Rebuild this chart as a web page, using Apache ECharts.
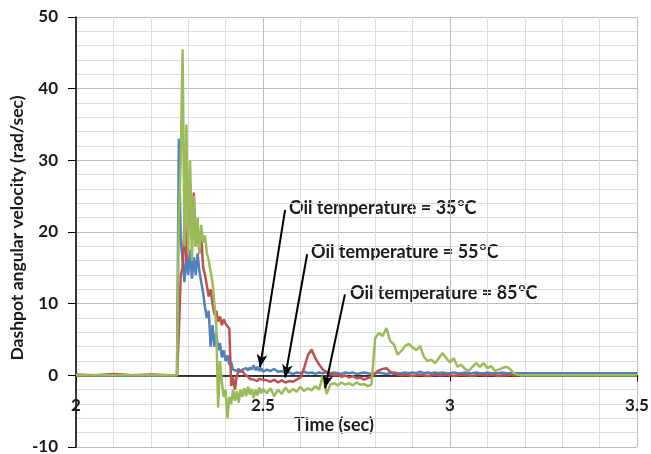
<!DOCTYPE html>
<html>
<head>
<meta charset="utf-8">
<script src="https://cdn.jsdelivr.net/npm/echarts@6/dist/echarts.min.js"></script>
<style>
html, body { margin: 0; padding: 0; background: #fff; }
#chart { width: 651px; height: 454px; }
</style>
</head>
<body>
<div id="chart"></div>
<script>
// time (sec)
var times = [
    2.0, 2.05, 2.1, 2.15, 2.2, 2.25, 2.27,
    2.275, 2.28, 2.285, 2.29, 2.295, 2.3, 2.305, 2.31, 2.315, 2.32, 2.325, 2.33, 2.335, 2.34, 2.345, 2.35,
    2.355, 2.36, 2.365, 2.37, 2.375, 2.38, 2.385, 2.39, 2.395, 2.4, 2.405, 2.41, 2.415, 2.42, 2.425, 2.43,
    2.435, 2.44, 2.445, 2.45, 2.455, 2.46, 2.465, 2.47, 2.475, 2.48, 2.485, 2.49, 2.495, 2.5,
    2.51, 2.52, 2.53, 2.54, 2.55, 2.56, 2.57, 2.58, 2.59, 2.6, 2.61, 2.62, 2.63, 2.64, 2.65, 2.66, 2.67, 2.68,
    2.69, 2.7, 2.71, 2.72, 2.73, 2.74, 2.75, 2.76, 2.77, 2.78, 2.79, 2.8, 2.81, 2.82, 2.83, 2.84, 2.85, 2.86,
    2.87, 2.88, 2.89, 2.9, 2.91, 2.92, 2.93, 2.94, 2.95, 2.96, 2.97, 2.98, 2.99, 3.0, 3.01, 3.02, 3.03, 3.04,
    3.05, 3.06, 3.07, 3.08, 3.09, 3.1, 3.11, 3.12, 3.13, 3.14, 3.15, 3.16, 3.17, 3.18, 3.19, 3.2,
    3.3, 3.4, 3.5
];

// oil temperature = 35 C (blue)
var vel35 = [
    0, 0, 0, 0, 0, 0, 0,
    33, 19, 16, 13, 17, 14, 17.5, 13.5, 16.5, 14, 17, 14.5, 13, 11.5, 9.5, 8,
    9, 4, 7, 4, 6, 3.5, 4.5, 2.5, 3.5, 2, 2.8, 1.5, 1.8, 0.8, 1.0, 0.6,
    0.9, 0.5, 0.8, 0.6, 1.0, 0.7, 1.1, 0.8, 1.4, 0.7, 1.2, 0.6, 1.0, 0.5,
    0.8, 0.6, 0.9, 0.5, 0.6, 0.3, 0.4, 0.2, 0.4, 0.3, 0.5, 0.3, 0.4, 0.2, 0.4, 0.3, 0.5, 0.3,
    0.4, 0.3, 0.2, 0.4, 0.3, 0.4, 0.2, 0.3, 0.4, 0.3, 0.2, 0.3, 0.4, 0.3, 0.2, 0.3, 0.4, 0.3,
    0.3, 0.4, 0.3, 0.4, 0.3, 0.5, 0.3, 0.4, 0.3, 0.4, 0.3, 0.4, 0.3, 0.3, 0.4, 0.3, 0.3, 0.4,
    0.3, 0.3, 0.4, 0.3, 0.3, 0.4, 0.3, 0.3, 0.3, 0.4, 0.3, 0.3, 0.3, 0.3, 0.3, 0.3,
    0.3, 0.3, 0.3
];

// oil temperature = 55 C (red)
var vel55 = [
    0.1, 0, 0.2, 0, 0.1, 0, 0,
    6, 14, 15, 21, 16, 23, 27, 19, 25.5, 18, 21, 17, 19.5, 15, 14, 12.5,
    11, 12, 10, 8.5, 9, 7.5, 8.2, 7, 7.8, 7.2, 7, 6.5, -1.5, -0.3, -2, 0,
    0.5, 0.3, 0.6, 0.2, 0.4, -0.2, -0.5, -0.3, -0.6, -0.4, -0.8, -0.5, -0.7, -0.6,
    -0.7, -0.9, -0.6, -1.0, -0.7, -1.0, -0.8, -0.9, -0.6, -0.3, 1.0, 2.8, 3.6, 2.4, 1.5, 0.8, 0.4, 0.2,
    0.0, 0.1, -0.2, 0.0, -0.3, -0.1, -0.4, -0.3, -0.6, -0.4, -0.2, 0.3, 0.7, 0.9, 1.0, 0.5, 0.2, 0.1,
    0.0, 0.1, 0.0, -0.1, 0.0, 0.1, 0.0, -0.1, 0.0, 0.1, 0.0, 0.0, 0.1, 0.0, -0.1, 0.0, 0.1, 0.0,
    0.0, -0.1, 0.0, 0.1, 0.0, 0.0, 0.1, 0.0, -0.1, 0.0, 0.0, 0.1, 0.0, 0.0, 0.0, 0.0,
    0, 0, 0
];

// oil temperature = 85 C (green)
var vel85 = [
    0, 0, 0, 0, 0, 0, 0,
    22, 30, 45.5, 18, 35, 17, 30, 16, 25, 18, 22, 17, 21, 18.5, 19.5, 17,
    16, 14.5, 13, 10, 7, -4.5, 2, -1, -3, -2, -6, -3, -4, -2, -3.6, -2.2,
    -3.8, -2, -3, -1.8, -2.9, -1.6, -2.7, -1.9, -3.2, -2, -2.8, -1.7, -2.5, -1.9,
    -2.5, -1.8, -2.9, -2.0, -2.6, -1.7, -2.4, -1.9, -2.3, -1.6, -2.2, -1.8, -2.1, -1.5, -2.0, 0.0, -2.6, -1.3,
    -1.1, -1.4, -1.0, -1.3, -1.1, -1.4, -1.0, -1.3, -1.2, -1.5, -1.3, 5.2, 5.9, 5.5, 6.6, 4.8, 4.3, 2.9,
    3.4, 4.1, 4.4, 3.9, 3.5, 4.1, 2.6, 2.0, 2.2, 1.7, 2.4, 3.1, 2.4, 1.8, 2.4, 1.2, 1.5, 0.9,
    0.6, 1.2, 1.7, 1.2, 1.7, 1.0, 1.3, 0.6, 0.8, 1.0, 1.2, 0.9, 0.3, 0.1, 0.0, 0.0,
    0, 0, 0
];

// arrows: [start, tip] in data units
var arrows35 = [[2.559, 23.1], [2.492, 1.1]];
var arrows55 = [[2.618, 16.9], [2.559, -0.3]];
var arrows85 = [[2.719, 11.3], [2.666, -1.8]];

function pairs(vals) {
    var out = [];
    for (var i = 0; i < times.length; i++) {
        out.push([times[i], vals[i]]);
    }
    return out;
}

var chart = echarts.init(document.getElementById('chart'));
var fontName = 'Lato';
var gridTop = 17, gridBottom = 7, chartH = 454;
var yMin = -10, yMax = 50;
// shift the x axis up so it sits on y = 0
var plotH = chartH - gridTop - gridBottom;
var zeroOffset = -plotH * (0 - yMin) / (yMax - yMin);

var measureCtx = document.createElement('canvas').getContext('2d');

// "Oil temperature = 35" + superscript o + "C"
function annText(x, y, temp) {
    var main = 'Oil temperature = ' + temp;
    measureCtx.font = 'bold 18px ' + fontName;
    var w = measureCtx.measureText(main).width;
    var st = { fontFamily: fontName, fontWeight: 'bold', fill: '#1a1a1a', verticalAlign: 'middle' };
    return [
        { type: 'text', x: x, y: y, style: Object.assign({ text: main, fontSize: 18 }, st) },
        { type: 'text', x: x + w + 1, y: y - 6, style: Object.assign({ text: 'o', fontSize: 12 }, st) },
        { type: 'text', x: x + w + 8, y: y, style: Object.assign({ text: 'C', fontSize: 18 }, st) }
    ];
}

var graphics = [].concat(
    annText(289, 208, '35'),
    annText(311, 252, '55'),
    annText(350, 293, '85'),
    [
        {
            type: 'text', x: 334, y: 425,
            style: { text: 'Time (sec)', fontFamily: fontName, fontWeight: 'bold', fontSize: 18, fill: '#1a1a1a', align: 'center', verticalAlign: 'middle' }
        },
        {
            type: 'text', x: 17, y: 228, rotation: Math.PI / 2,
            style: { text: 'Dashpot angular velocity (rad/sec)', fontFamily: fontName, fontWeight: 'bold', fontSize: 17.5, fill: '#1a1a1a', align: 'center', verticalAlign: 'middle' }
        }
    ]
);

var option = {
    animation: false,
    backgroundColor: '#fff',
    grid: { left: 76, right: 14, top: gridTop, bottom: gridBottom, outerBoundsMode: 'none' },
    xAxis: {
        type: 'value',
        min: 2,
        max: 3.5,
        interval: 0.5,
        offset: zeroOffset,
        axisLine: { onZero: false, lineStyle: { color: '#000', width: 1.5 } },
        axisTick: { show: true, length: 6, lineStyle: { color: '#000' } },
        axisLabel: {
            margin: 22,
            fontFamily: fontName, fontWeight: 'bold', fontSize: 17, color: '#1a1a1a',
            formatter: function (v) { return String(v); }
        },
        splitLine: { show: true, lineStyle: { color: '#bcbcbc', width: 1 } },
        minorTick: { show: false, splitNumber: 5 },
        minorSplitLine: { show: true, lineStyle: { color: '#dddddd', width: 1 } }
    },
    yAxis: {
        type: 'value',
        min: yMin,
        max: yMax,
        interval: 10,
        axisLine: { show: true, onZero: false, lineStyle: { color: '#000', width: 1.5 } },
        axisTick: { show: true, length: 8, lineStyle: { color: '#000' } },
        axisLabel: {
            margin: 18,
            fontFamily: fontName, fontWeight: 'bold', fontSize: 17, color: '#1a1a1a'
        },
        splitLine: { show: true, lineStyle: { color: '#bcbcbc', width: 1 } },
        minorTick: { show: false, splitNumber: 5 },
        minorSplitLine: { show: true, lineStyle: { color: '#dddddd', width: 1 } }
    },
    series: [
        {
            name: '35', type: 'line', data: pairs(vel35), showSymbol: false,
            lineStyle: { color: '#4F81BD', width: 2.5 }, itemStyle: { color: '#4F81BD' }
        },
        {
            name: '55', type: 'line', data: pairs(vel55), showSymbol: false,
            lineStyle: { color: '#C0504D', width: 2.5 }, itemStyle: { color: '#C0504D' }
        },
        {
            name: '85', type: 'line', data: pairs(vel85), showSymbol: false,
            lineStyle: { color: '#9BBB59', width: 2.5 }, itemStyle: { color: '#9BBB59' },
            markLine: {
                silent: true,
                symbol: ['none', 'arrow'],
                symbolSize: [8, 13],
                label: { show: false },
                lineStyle: { color: '#000', width: 2, type: 'solid' },
                data: [
                    [{ coord: arrows35[0] }, { coord: arrows35[1] }],
                    [{ coord: arrows55[0] }, { coord: arrows55[1] }],
                    [{ coord: arrows85[0] }, { coord: arrows85[1] }]
                ]
            }
        }
    ],
    graphic: graphics
};

chart.setOption(option);
</script>
</body>
</html>
